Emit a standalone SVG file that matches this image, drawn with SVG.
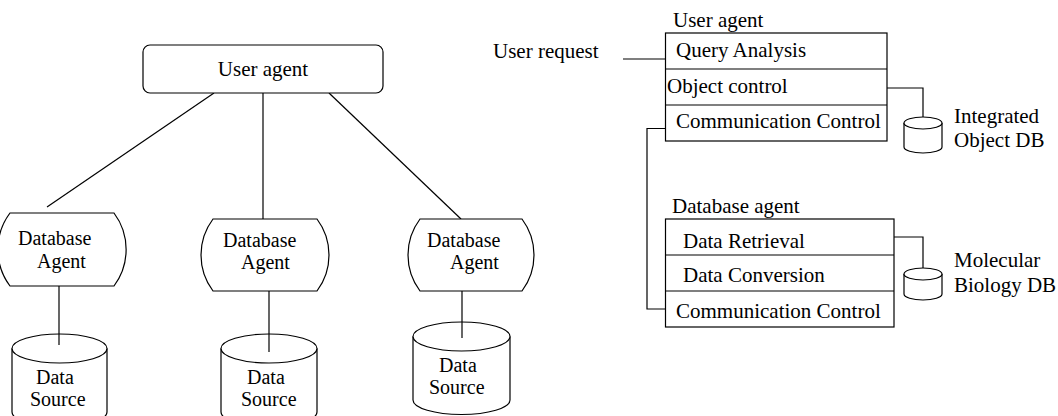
<svg xmlns="http://www.w3.org/2000/svg" width="1058" height="416" viewBox="0 0 1058 416">
  <style>
    .shape { fill: #ffffff; stroke: #000000; stroke-width: 1.2; }
    .wire { fill: none; stroke: #000000; stroke-width: 1.2; }
    text { font-family: "Liberation Serif", "Times New Roman", serif; font-size: 21px; fill: #000000; }
    .tight { font-size: 20px; }
  </style>

  <rect width="1058" height="416" fill="#ffffff"/>

  <!-- connectors -->
  <g id="connectors" class="wire">
    <line x1="214" y1="93" x2="47" y2="207"/>
    <line x1="263" y1="93" x2="263" y2="219"/>
    <line x1="329" y1="93" x2="461" y2="219"/>
    <line x1="59" y1="286" x2="59" y2="345"/>
    <line x1="269" y1="291" x2="269" y2="352"/>
    <line x1="462" y1="291" x2="462" y2="338"/>
    <line x1="623" y1="59" x2="666" y2="59"/>
    <polyline points="876,88 923,88 923,123"/>
    <polyline points="665,128.5 647,128.5 647,309 665,309"/>
    <polyline points="876,237 923,237 923,274"/>
  </g>

  <!-- hierarchy: user agent over database agents -->
  <g id="user-agent-top">
    <rect class="shape" x="143" y="45" width="240" height="48" rx="7"/>
    <text x="263" y="76" text-anchor="middle">User agent</text>
  </g>

  <g id="db-agent-1">
    <path class="shape" d="M10,213 H114 A61,61 0 0 1 114,286 H10 A61,61 0 0 1 10,213 Z"/>
    <text class="tight" x="18" y="245">Database</text>
    <text class="tight" x="37" y="268">Agent</text>
  </g>

  <g id="db-agent-2">
    <path class="shape" d="M213,219 H317 A60,60 0 0 1 317,291 H213 A60,60 0 0 1 213,219 Z"/>
    <text class="tight" x="223" y="247">Database</text>
    <text class="tight" x="241" y="269">Agent</text>
  </g>

  <g id="db-agent-3">
    <path class="shape" d="M420,219 H522 A60,60 0 0 1 522,291 H420 A60,60 0 0 1 420,219 Z"/>
    <text class="tight" x="427" y="247">Database</text>
    <text class="tight" x="450" y="269">Agent</text>
  </g>

  <g id="data-source-1">
    <path class="shape" d="M12,348.5 V412 A47.5,14.5 0 0 0 107,412 V348.5"/>
    <ellipse class="shape" cx="59.5" cy="348.5" rx="47.5" ry="14.5"/>
    <line class="wire" x1="59" y1="334" x2="59" y2="345"/>
    <text class="tight" x="36" y="384">Data</text>
    <text class="tight" x="30" y="406">Source</text>
  </g>

  <g id="data-source-2">
    <path class="shape" d="M221,348.5 V412 A48,14.5 0 0 0 317,412 V348.5"/>
    <ellipse class="shape" cx="269" cy="348.5" rx="48" ry="14.5"/>
    <line class="wire" x1="269" y1="334" x2="269" y2="352"/>
    <text class="tight" x="247" y="384">Data</text>
    <text class="tight" x="241" y="406">Source</text>
  </g>

  <g id="data-source-3">
    <path class="shape" d="M413,336.5 V400 A48.5,14.5 0 0 0 510,400 V336.5"/>
    <ellipse class="shape" cx="461.5" cy="336.5" rx="48.5" ry="14.5"/>
    <line class="wire" x1="462" y1="322" x2="462" y2="338"/>
    <text class="tight" x="439" y="372">Data</text>
    <text class="tight" x="429" y="394">Source</text>
  </g>

  <!-- layered structure of the agents -->
  <text x="493" y="58">User request</text>

  <g id="user-agent-stack">
    <text x="673" y="27">User agent</text>
    <rect class="shape" x="665.5" y="33" width="221.5" height="108"/>
    <line class="wire" x1="665.5" y1="69" x2="887" y2="69"/>
    <line class="wire" x1="665.5" y1="105" x2="887" y2="105"/>
    <text x="676" y="57">Query Analysis</text>
    <text x="667" y="93">Object control</text>
    <text x="676" y="128">Communication Control</text>
  </g>

  <g id="database-agent-stack">
    <text x="672" y="213">Database agent</text>
    <rect class="shape" x="665.5" y="219" width="228.5" height="108"/>
    <line class="wire" x1="665.5" y1="255" x2="894" y2="255"/>
    <line class="wire" x1="665.5" y1="291" x2="894" y2="291"/>
    <text x="683" y="248">Data Retrieval</text>
    <text x="683" y="282">Data Conversion</text>
    <text x="676" y="318">Communication Control</text>
  </g>

  <g id="integrated-object-db">
    <path class="shape" d="M904,123 V147 A19,6 0 0 0 942,147 V123"/>
    <ellipse class="shape" cx="923" cy="123" rx="19" ry="6"/>
    <text x="954" y="123">Integrated</text>
    <text x="954" y="147">Object DB</text>
  </g>

  <g id="molecular-biology-db">
    <path class="shape" d="M904,274 V294 A19,6 0 0 0 942,294 V274"/>
    <ellipse class="shape" cx="923" cy="274" rx="19" ry="6"/>
    <text x="954" y="267">Molecular</text>
    <text x="954" y="292">Biology DB</text>
  </g>
</svg>
